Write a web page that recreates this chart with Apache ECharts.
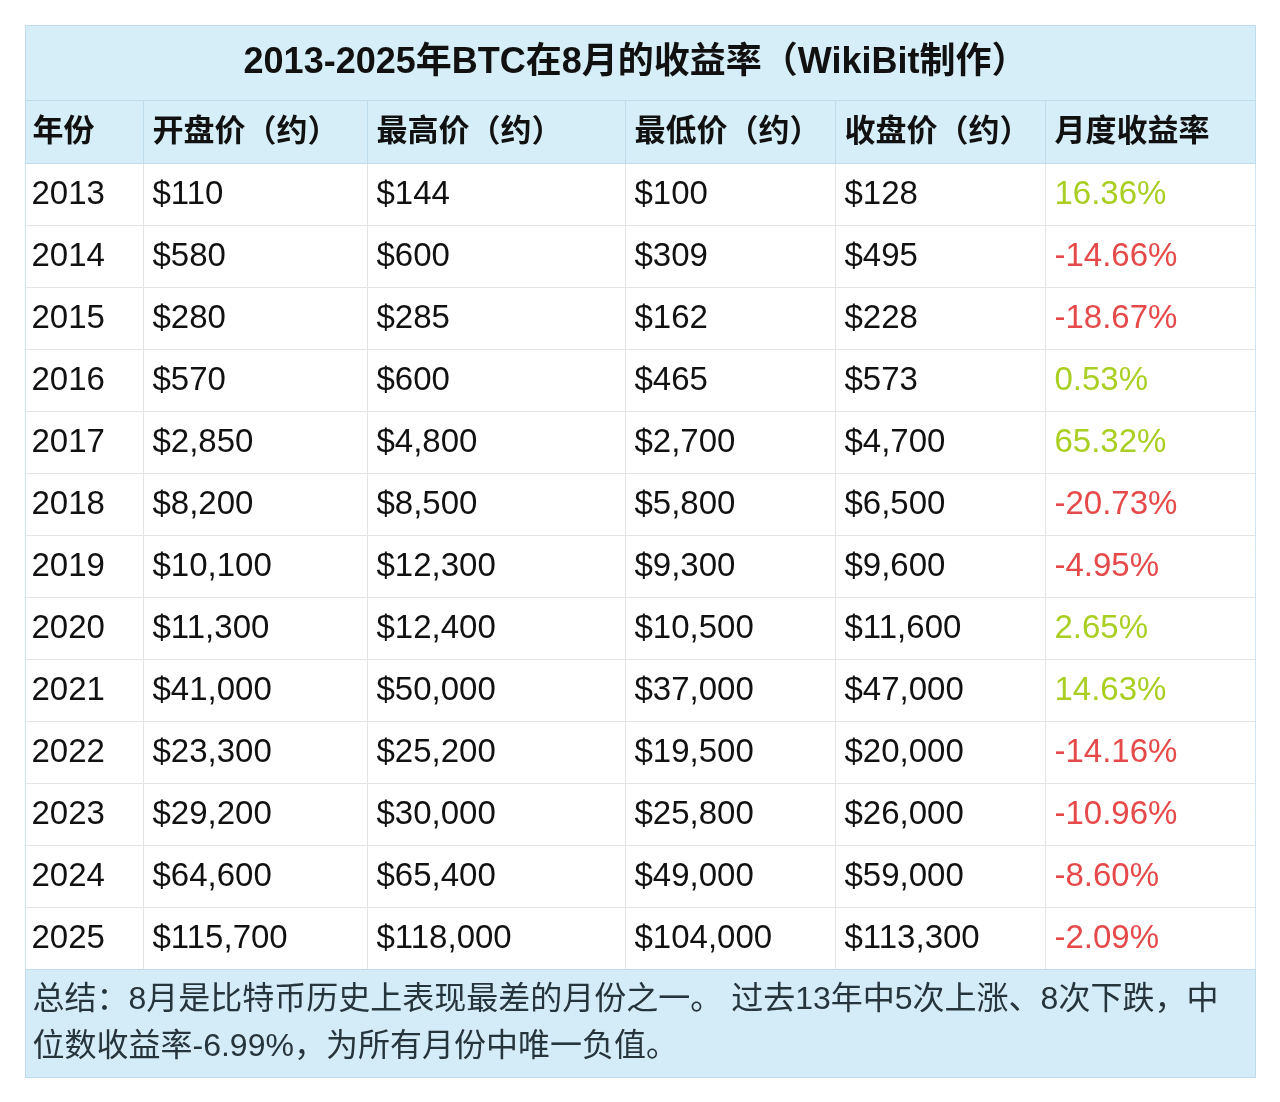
<!DOCTYPE html>
<html>
<head>
<meta charset="utf-8">
<title>BTC 8月收益率</title>
<script src="https://cdn.jsdelivr.net/npm/echarts@6/dist/echarts.min.js"></script>
<style>
  html, body { margin: 0; padding: 0; background: #fff; }
  #main { width: 1280px; height: 1102px; }
</style>
</head>
<body>
<div id="main"></div>
<script>
// 表格数据
var titleText = '2013-2025年BTC在8月的收益率（WikiBit制作）';
var columns = ['年份', '开盘价（约）', '最高价（约）', '最低价（约）', '收盘价（约）', '月度收益率'];
var years = ['2013', '2014', '2015', '2016', '2017', '2018', '2019', '2020', '2021', '2022', '2023', '2024', '2025'];
var openPrices = [110, 580, 280, 570, 2850, 8200, 10100, 11300, 41000, 23300, 29200, 64600, 115700];
var highPrices = [144, 600, 285, 600, 4800, 8500, 12300, 12400, 50000, 25200, 30000, 65400, 118000];
var lowPrices = [100, 309, 162, 465, 2700, 5800, 9300, 10500, 37000, 19500, 25800, 49000, 104000];
var closePrices = [128, 495, 228, 573, 4700, 6500, 9600, 11600, 47000, 20000, 26000, 59000, 113300];
var monthlyReturns = [16.36, -14.66, -18.67, 0.53, 65.32, -20.73, -4.95, 2.65, 14.63, -14.16, -10.96, -8.60, -2.09];
var summaryLines = [
    '总结：8月是比特币历史上表现最差的月份之一。 过去13年中5次上涨、8次下跌，中',
    '位数收益率-6.99%，为所有月份中唯一负值。'
];

var FONT = "'Liberation Sans', 'Noto Sans CJK SC', sans-serif";
var headBg = '#d6eef8';
var headBorder = '#bfdcea';
var cellBorder = '#e4e4e4';
var upColor = '#a9cf22';
var downColor = '#e6494a';

var colSizes = [118, 224, 258, 210, 210, 210];
var rowSizes = [75, 63];
years.forEach(function () { rowSizes.push(62); });
rowSizes.push(108);

var xData = colSizes.map(function (s, i) { return { value: 'c' + i, size: s }; });
var yData = rowSizes.map(function (s, i) { return { value: 'r' + i, size: s }; });

function money(v) {
    return '$' + v.toLocaleString('en-US');
}

var cells = [];

// 标题行
cells.push({
    coord: [['c0', 'c5'], 'r0'],
    mergeCells: true,
    value: titleText,
    itemStyle: { color: headBg, borderColor: headBorder },
    label: { fontSize: 36, fontWeight: 'bold', color: '#111', align: 'center', padding: [0, 10, 0, 0], offset: [0, 0] }
});

// 表头
columns.forEach(function (name, i) {
    cells.push({
        coord: ['c' + i, 'r1'],
        value: name,
        itemStyle: { color: headBg, borderColor: headBorder },
        label: { fontSize: 31, fontWeight: 'bold', color: '#111', padding: [0, 0, 0, i === 0 ? 7 : 9] }
    });
});

// 数据行
years.forEach(function (year, j) {
    var row = 'r' + (j + 2);
    var vals = [year, money(openPrices[j]), money(highPrices[j]), money(lowPrices[j]), money(closePrices[j])];
    vals.forEach(function (v, i) {
        var cell = { coord: ['c' + i, row], value: v };
        if (i === 0) {
            cell.label = { padding: [0, 0, 0, 6] };
        }
        cells.push(cell);
    });
    var r = monthlyReturns[j];
    cells.push({
        coord: ['c5', row],
        value: r.toFixed(2) + '%',
        label: { color: r >= 0 ? upColor : downColor }
    });
});

// 总结行
cells.push({
    coord: [['c0', 'c5'], 'r' + (rowSizes.length - 1)],
    mergeCells: true,
    value: summaryLines.join('\n'),
    itemStyle: { color: '#d4ecf7', borderColor: headBorder },
    label: { fontSize: 32, color: '#26343b', lineHeight: 47, fontWeight: 'normal', padding: [0, 0, 0, 7] }
});

var myChart = echarts.init(document.getElementById('main'));

var option = {
    backgroundColor: '#fff',
    textStyle: { fontFamily: FONT },
    matrix: {
        left: 25,
        top: 25,
        width: 1230,
        height: 1052,
        x: { show: false, data: xData },
        y: { show: false, data: yData },
        backgroundStyle: { color: '#fff', borderColor: '#cfe4ee', borderWidth: 1 },
        body: {
            data: cells,
            itemStyle: { color: '#fff', borderColor: cellBorder, borderWidth: 1 },
            label: {
                fontFamily: FONT,
                fontSize: 33,
                color: '#111',
                align: 'left',
                position: 'insideLeft',
                padding: [0, 0, 0, 9],
                offset: [0, 3]
            }
        }
    }
};

window.addEventListener('resize', function () {
    myChart.resize();
});
myChart.setOption(option);
</script>
</body>
</html>
